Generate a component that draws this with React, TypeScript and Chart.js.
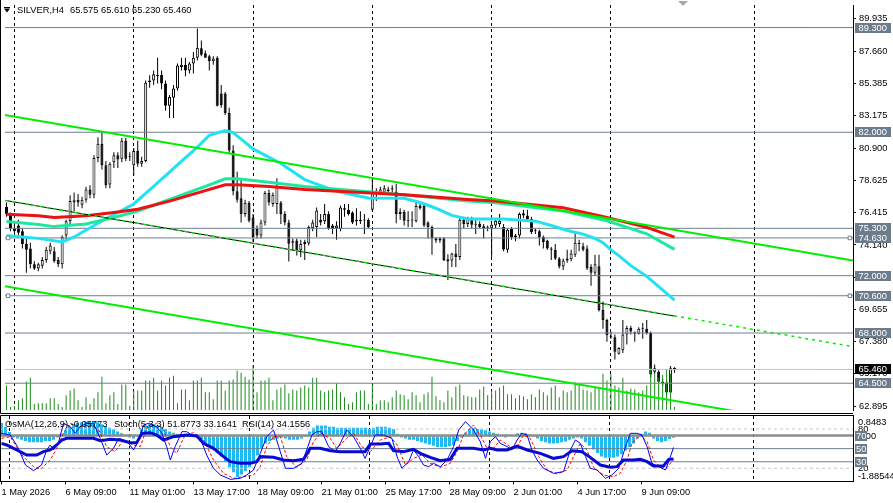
import React, { useEffect, useRef } from "react";
import { Chart, registerables } from "chart.js";
Chart.register(...registerables);

const FONT = '"Liberation Sans", Arial, sans-serif';
const FS = 9.3;

// ---------- text ----------
const symbolTitle = "SILVER,H4";
const quoteTitle = "65.575 65.610 65.230 65.460";
const indicatorTitles = ["OsMA(12,26,9) -0.05773", "Stoch(5,3,3) 51.8773 33.1641", "RSI(14) 34.1556"];
const timeTickBars = [0, 16, 32, 48, 64, 80, 96, 112, 128, 144, 160];
const timeTickLabels = ["1 May 2026", "6 May 09:00", "11 May 01:00", "13 May 17:00", "18 May 09:00", "21 May 01:00", "25 May 17:00", "28 May 09:00", "2 Jun 01:00", "4 Jun 17:00", "9 Jun 09:00"];
const weekGridBars = [2, 32, 62, 92, 122, 152, 188];
const priceTicks = [89.935, 87.66, 85.385, 83.175, 80.9, 78.625, 76.415, 74.14, 71.865, 69.655, 67.38, 65.17, 62.895];
const priceLevels = [89.3, 82.0, 75.3, 74.63, 72.0, 70.6, 68.0, 64.5];
const lastPrice = 65.46;
const subTickValues = [89.6, 80, 68.97, 20, 8.2];
const subTickLabels = ["0.8483", "80", "0.00", "20", "-1.88544"];
const oscLevelsSolid = [50, 30];
const oscLevelMain = 70;
const oscLevelsDashed = [80, 20];

// ---------- candles (H4) ----------
const opens = [76.8,76.3,75.3,75.5,75.1,74.2,73.9,72.8,72.5,72.7,73.1,73.7,73.7,73.1,72.8,74.8,75.8,77.1,77.3,76.95,77.3,78.0,77.65,80.2,81.2,79.7,78.35,79.9,80.4,80.15,81.4,80.3,79.7,80.7,79.8,80.0,85.5,85.6,86.0,86.0,85.4,83.85,84.4,85.05,86.55,86.7,86.3,86.8,87.2,87.85,87.5,87.3,86.95,87.2,84.7,84.7,83.35,80.73,77.88,77.4,76.3,77.08,76.05,75.25,74.8,75.7,77.77,77.0,77.0,77.1,76.3,75.7,74.4,74.45,73.78,74.2,74.25,75.3,75.4,75.9,75.8,76.3,75.5,75.3,75.25,76.6,76.6,76.4,75.8,75.9,75.85,75.9,76.6,77.7,77.8,77.8,78.0,78.0,77.85,76.45,76.45,75.85,75.9,75.8,76.9,76.85,75.7,75.4,74.6,74.45,74.6,73.15,73.05,73.55,73.3,75.9,75.6,75.95,75.55,75.6,75.45,75.35,75.3,75.5,75.6,75.4,73.8,75.25,74.7,74.8,76.35,76.2,75.95,75.1,75.1,74.7,74.45,73.9,73.8,73.2,72.64,73.05,73.15,73.45,74.3,74.05,73.9,72.6,72.2,72.65,69.6,68.9,67.7,67.7,66.55,66.8,67.9,68.35,68.05,67.95,68.3,68.3,68.0,65.3,65.3,64.6,64.55,63.85,65.575];
const highs = [77.1,76.4,75.8,75.9,75.3,74.6,74.3,73.0,72.9,73.3,74.0,74.3,74.0,73.3,74.8,75.9,77.6,77.8,77.7,77.5,78.2,78.3,80.4,81.65,81.98,80.0,79.9,80.6,80.6,81.6,81.6,80.6,80.9,81.4,80.3,85.6,85.97,86.3,87.2,86.3,85.6,84.6,85.3,86.8,87.2,87.2,86.9,87.6,89.23,88.4,87.7,87.4,87.3,87.3,85.3,84.8,83.7,81.1,79.25,78.8,77.3,77.2,76.3,75.5,75.9,77.9,78.0,77.8,78.8,77.2,76.5,75.9,74.6,74.6,74.5,74.5,75.5,75.9,76.75,76.3,77.0,76.5,75.6,75.8,76.9,77.0,77.0,76.5,76.7,76.5,76.3,76.0,78.8,78.1,78.2,78.3,78.2,78.3,78.4,76.7,76.6,76.5,76.5,77.1,77.1,77.0,75.8,75.5,74.7,74.7,74.7,73.5,73.6,74.2,76.0,76.1,76.1,76.1,75.9,75.8,75.6,75.5,75.6,76.0,76.3,75.6,75.3,75.4,74.9,76.4,76.6,76.6,76.1,75.3,75.2,74.8,74.5,74.0,74.2,73.3,73.2,73.8,73.8,75.1,74.5,74.3,74.1,72.8,73.45,73.45,70.2,69.0,68.1,67.9,67.0,68.9,68.5,68.5,68.1,68.4,68.7,68.9,68.1,65.8,65.4,64.8,64.7,65.7,65.61];
const lows = [76.1,75.1,74.9,74.8,73.9,72.2,72.5,72.4,72.3,72.5,72.9,73.5,72.9,72.6,72.5,74.5,75.6,76.5,76.8,76.7,77.1,77.4,77.4,79.9,79.4,78.1,78.1,79.5,79.5,79.9,80.0,80.0,79.0,79.6,79.6,79.9,85.1,85.3,85.4,85.0,83.5,83.0,83.0,84.9,86.3,85.9,86.1,86.1,87.0,87.3,87.2,86.3,86.7,83.8,83.7,83.2,80.5,77.6,77.1,75.7,76.1,75.7,74.35,74.6,74.6,75.5,76.9,76.8,76.3,75.6,75.5,72.98,73.8,73.4,73.3,73.1,74.1,75.1,74.7,75.5,75.6,75.2,74.9,74.5,75.1,76.1,76.2,75.6,75.5,75.6,74.9,75.3,76.5,77.2,77.6,77.7,77.8,77.8,75.65,75.9,75.5,75.4,75.4,75.7,76.6,75.4,74.6,73.45,74.3,74.3,73.0,71.7,72.6,72.6,73.1,75.3,75.4,75.3,74.9,75.3,74.6,75.1,73.3,75.3,75.4,73.7,73.6,74.5,74.4,74.6,76.0,75.8,74.9,74.9,74.1,73.9,73.8,73.1,73.1,72.5,72.4,72.9,73.0,73.3,73.7,73.7,72.4,71.3,72.0,69.5,68.3,67.4,67.6,66.15,66.5,66.6,67.2,67.9,67.4,67.9,67.6,67.9,64.9,65.1,64.5,64.3,63.7,63.8,65.23];
const closes = [76.3,75.3,75.1,75.0,74.2,73.8,72.8,72.5,72.8,73.1,73.8,74.1,73.0,72.8,74.7,75.8,77.2,77.25,77.1,77.3,78.0,77.65,80.2,81.2,79.7,78.3,79.8,80.4,80.1,81.4,80.15,80.25,80.7,79.8,80.0,85.45,85.6,86.04,85.9,85.4,83.85,84.45,85.05,86.65,86.7,86.3,86.8,87.2,87.9,87.4,87.2,86.95,87.15,83.85,83.9,83.35,80.73,77.88,77.3,76.3,77.08,75.83,74.7,74.8,75.7,77.77,77.1,77.65,78.2,76.3,75.7,74.23,74.3,73.78,74.2,74.35,75.4,75.7,76.55,75.7,76.3,75.3,75.25,75.5,76.75,76.7,76.3,75.7,75.9,75.8,75.9,75.4,77.8,77.85,78.0,78.1,77.9,78.1,76.3,76.3,75.83,75.8,75.85,76.85,76.7,75.5,75.4,74.6,74.45,74.6,73.1,72.98,73.55,73.3,75.9,75.6,75.95,75.55,75.6,75.4,75.3,75.3,75.55,75.83,75.83,73.82,75.2,74.7,74.8,76.3,76.2,75.95,75.05,75.1,74.7,74.35,73.9,73.8,73.2,72.64,73.05,73.2,73.55,74.3,74.2,73.8,72.5,72.2,72.8,69.6,68.9,67.85,67.75,66.7,66.95,67.9,68.35,68.1,67.95,68.3,68.3,68.0,65.1,65.55,64.6,64.5,63.85,65.55,65.46];
const volumes = [25,3,4,10,12,29,33,6,7,7,7,12,12,6,3,15,20,22,10,3,13,6,12,18,34,7,15,18,6,26,26,4,20,20,20,30,30,33,20,30,25,33,35,7,21,21,10,30,30,33,18,18,11,30,30,20,30,31,40,38,34,31,46,18,30,30,33,10,21,23,26,17,21,20,23,25,23,33,33,20,18,20,21,27,18,13,6,8,18,20,20,6,26,6,10,10,8,13,20,16,15,11,18,15,8,16,18,34,14,10,8,20,13,24,26,15,14,13,13,21,24,15,20,20,23,25,16,16,12,15,14,11,16,13,21,18,15,23,25,13,20,18,20,28,26,21,20,18,23,22,37,30,37,25,23,33,20,22,21,18,20,25,43,36,33,36,41,37,3];

// ---------- moving averages (bar index / value) ----------
const maFastBars = [0,8,14,17,25,32,37,43,48,51,55,57,62,69,75,83,91,100,104,108,112,116,125,133,137,141,145,148,150,152,154,157,161,168];
const maFastVals = [74.8,74.6,74.35,74.7,75.97,77.0,78.22,79.73,80.96,81.78,82.12,81.98,80.84,79.82,78.7,77.88,77.42,77.4,77.1,76.7,76.2,75.95,75.95,75.8,75.5,75.15,74.9,74.6,74.3,73.8,73.4,72.7,71.95,70.3];
const maMidBars = [0,8,12,20,27,33,41,50,55,58,66,75,100,116,123,140,151,161,168];
const maMidVals = [75.78,75.56,75.42,75.6,76.06,76.51,77.31,78.22,78.75,78.75,78.52,78.22,77.65,77.2,77.08,76.5,75.83,74.92,73.83];
const maSlowBars = [0,8,12,20,27,33,41,50,55,58,66,75,100,116,123,140,151,161,168];
const maSlowVals = [76.29,76.17,76.06,76.17,76.4,76.63,77.2,77.93,78.34,78.34,78.22,78.0,77.65,77.31,77.2,76.74,76.06,75.37,74.69];

// ---------- channel objects (values at left / right edge) ----------
const XMIN = -0.375;
const XMAX = 212.875;
const channelUpper = [83.21, 73.06];
const channelLower = [71.27, 61.14];
const channelMid = [77.25, 67.05];
const channelMidSolidEnd = [168, 69.18];
const handleBars = [0.4, 212.1];
const handleLevels = [74.63, 70.6];

// ---------- oscillators ----------
const osma = [0.56,0.39,0.18,-0.05,-0.1,-0.15,-0.2,-0.25,-0.25,-0.25,-0.25,-0.2,-0.2,-0.15,-0.05,0.1,0.25,0.4,0.5,0.55,0.58,0.6,0.6,0.6,0.58,0.5,0.42,0.35,0.28,0.2,0.12,0.05,-0.05,-0.1,0.05,0.3,0.45,0.5,0.5,0.45,0.4,0.3,0.2,0.15,0.1,0.05,0.02,0.0,-0.02,-0.05,-0.15,-0.3,-0.4,-0.55,-0.7,-0.85,-1.05,-1.3,-1.5,-1.7,-1.6,-1.45,-1.3,-1.05,-0.8,-0.5,-0.3,-0.2,-0.15,-0.1,-0.05,-0.1,-0.15,-0.15,-0.15,-0.1,0.05,0.2,0.35,0.45,0.45,0.45,0.4,0.4,0.35,0.35,0.35,0.35,0.35,0.35,0.35,0.35,0.3,0.35,0.4,0.4,0.4,0.35,0.3,0.1,-0.05,-0.1,-0.15,-0.15,-0.2,-0.25,-0.3,-0.35,-0.4,-0.45,-0.45,-0.45,-0.42,-0.38,-0.2,-0.05,0.15,0.3,0.35,0.3,0.28,0.25,0.2,0.15,0.1,0.0,-0.05,0.0,0.05,0.12,0.15,0.12,0.08,0.02,-0.1,-0.2,-0.25,-0.3,-0.3,-0.28,-0.25,-0.22,-0.15,-0.1,-0.05,-0.1,-0.25,-0.4,-0.55,-0.7,-0.85,-0.9,-0.9,-0.9,-0.85,-0.75,-0.6,-0.45,-0.3,-0.1,0.1,0.2,0.15,-0.1,-0.2,-0.25,-0.2,-0.12,-0.06];
const stochMainBars = [0,2.2,4,6,8,10,11.3,12.2,13,14.3,15.5,17.2,18.4,19.7,21.3,23,24.7,26.3,28,29.3,30.5,31.8,33,34.3,35.5,36.7,38.8,40.1,41.3,42.2,43.4,45.1,46.3,47.6,49.7,51.3,53,54.7,57.2,59.7,61.3,63,64.7,66.3,68,69.3,71,73,75.1,76.3,77.6,78.8,80.1,81.8,83.4,84.7,86.3,88,89.7,90.9,92.2,93.4,95.5,97.6,98.9,100.1,101.8,103,104.3,105.5,106.8,108,109.7,111.4,113,114.3,116,118,119.7,121,122.2,123.5,124.7,126.4,127.6,128.9,130.1,131.4,132.6,133.9,135.5,138,140.5,142.2,143.5,144.7,146,147.2,148.9,151,152.6,154.3,156,157.2,158.9,160.1,161.4,162.6,164.3,166,166.8,168];
const stochMainVals = [73.4,70.8,53,25,16.4,25,48,55.6,48,60.6,88.6,83.6,73.4,83.6,88.6,88.6,65.7,40.3,50.5,65.7,63.2,58.1,48,63.2,86.1,88.6,83.6,73.4,53,32.7,53,75.9,75.9,70.8,65.7,40.3,20,9.8,3.1,4.7,9.8,17.4,42.8,68.3,78.5,53,20,20,27.6,48,70.8,75.9,75.9,53,45.4,58.1,78.5,68.3,50.5,35.2,53,70.8,70.8,65.7,37.8,20,30.1,48,37.8,25,22.5,27.6,22.5,32.7,53,78.5,91.2,78.5,60.6,35.2,60.6,68.3,58.1,53,48,63.2,73.4,70.8,48,32.7,20,12.3,14.9,48,63.2,58.1,37.8,20,17.4,4.7,9.8,20,53,73.4,73.4,70.8,53,27.6,22.5,17.4,30.1,51.9];
const stochSignalBars = [0,2.2,4.7,8,9.7,12.2,13.8,15.5,17.2,19.7,22.2,24.3,26.3,28.4,30.5,33,34.7,36.3,38.8,40.5,42.2,43.8,45.9,48,50.5,53,55.5,58,60.5,63,64.7,66.3,68,69.7,71.3,73.8,76.3,78,79.7,82.2,83.8,86.3,88,90.1,92.2,94.7,97.2,98.9,101,103,105.1,107.2,109.7,112.2,113.9,115.5,118,119.7,121.4,123,124.7,127.2,128.9,130.5,132.2,134.3,136.4,138.9,141.4,143,144.7,146.4,148,150.5,153,154.7,156.4,157.6,159.7,161.4,163,164.7,166.4,168];
const stochSignalVals = [65.7,68.3,42.8,22.5,18.4,32.7,50.5,73.4,88.6,83.6,86.1,78.5,53,45.4,63.2,55.6,53,81,88.6,78.5,53,42.8,70.8,74.4,63.2,32.7,12.3,4.7,7.2,9.8,22.5,53,68.3,68.3,37.8,21.5,32.7,60.6,73.4,65.7,50.5,65.7,73.4,53,45.4,63.2,68.3,55.6,25,35.2,40.3,27.6,21.5,27.6,45.4,70.8,86.1,70.8,50.5,50.5,63.2,53,53,70.8,65.7,37.8,17.4,11.3,17.4,37.8,58.1,47.9,21.5,9.8,7.2,12.3,32.7,58.1,70.8,60.6,32.7,21.5,21.5,33.2];
const rsiBars = [0,1.3,3.8,6.3,8.8,10.5,12.2,13.8,15.1,16.3,19.7,23,24.7,27.2,29.7,32.2,33.8,35.1,37.2,38.8,40.5,43,46.3,48.8,50.5,53,55.5,57.2,59.7,62.2,63.8,64.7,68,70.5,73,75.5,77.2,79.7,82.2,84.7,88,90.9,92.2,94.7,96.8,98,100.5,103,104.7,107.2,109.7,112.2,113.9,118,120.5,122.2,123.9,126.4,128.9,131.4,134.7,138,140.5,142.6,145.1,147.2,149.7,152.2,153.9,155.5,158,159.7,161.4,163,165.5,166.8,168];
const rsiVals = [58.1,55.6,48,40.3,40.3,45.4,48,55.6,63.2,65.7,65.7,65.7,62.2,64.2,63.2,59.1,59.1,73.4,74.4,70.8,63.2,68.3,70.8,69.3,58.1,50.5,37.8,30.1,27.6,27.6,30.1,37.8,36.7,32.7,31.6,33.7,50.5,50.5,46.9,45.4,45.4,45.4,57.1,57.1,58.1,46.9,45.4,49,42.8,36.7,31.6,33.7,50.5,50.5,48,50.5,48,48,54,48,42.8,35.2,37.8,46.9,45.4,36.7,25,21.5,22.5,32.7,32.7,33.7,30.1,23.5,23.5,33.7,34.2];

// ---------- styles ----------
const LEVEL = "#6E7F91";
const LEVEL_BOX = "#6D7C8C";
const LIME = "#00EE00";

const pts = (xs: number[], ys: number[]) => xs.map((x, k) => ({ x, y: ys[k] }));
const lineDs = (data: any[], color: string, width: number, extra: any = {}) => ({
  type: "line", data, borderColor: color, borderWidth: width, pointRadius: 0, fill: false, tension: 0, ...extra,
});
const hLine = (v: number) => [{ x: XMIN, y: v }, { x: XMAX, y: v }];
const setTicks = (vals: number[]) => (s: any) => { s.ticks = vals.map((v) => ({ value: v })); };

const mainOverlay = {
  id: "mainOverlay",
  afterDraw(chart: any) {
    const { ctx } = chart;
    const ys = chart.scales.y;
    ctx.save();
    ctx.strokeStyle = "#000";
    ctx.lineWidth = 1;
    ctx.beginPath();
    ctx.moveTo(0.5, 0); ctx.lineTo(0.5, 413.5); ctx.lineTo(853, 413.5);
    ctx.stroke();
    ctx.font = `${FS}px ${FONT}`;
    ctx.textBaseline = "middle";
    ctx.textAlign = "left";
    const box = (v: number, bg: string) => {
      const y = Math.round(ys.getPixelForValue(v));
      ctx.fillStyle = bg;
      ctx.fillRect(855, y - 5, 36, 10);
      ctx.fillStyle = "#fff";
      ctx.fillText(v.toFixed(3), 858.5, y + 0.5);
    };
    priceLevels.forEach((v) => box(v, LEVEL_BOX));
    box(lastPrice, "#000");
    ctx.fillStyle = "#000";
    ctx.beginPath(); ctx.moveTo(4, 8.5); ctx.lineTo(10, 8.5); ctx.lineTo(7, 12.5); ctx.closePath(); ctx.fill();
    ctx.fillRect(4, 7, 6, 1);
    ctx.fillText(symbolTitle, 17, 10.5);
    ctx.fillText(quoteTitle, 70, 10.5);
    ctx.fillStyle = "#A8A8A8";
    ctx.beginPath(); ctx.moveTo(678, 1); ctx.lineTo(688, 1); ctx.lineTo(683, 6); ctx.closePath(); ctx.fill();
    ctx.restore();
  },
};

const subOverlay = {
  id: "subOverlay",
  afterDraw(chart: any) {
    const { ctx, chartArea } = chart;
    const ys = chart.scales.y;
    ctx.save();
    ctx.strokeStyle = "#000";
    ctx.lineWidth = 1;
    ctx.beginPath();
    ctx.moveTo(0.5, chartArea.bottom); ctx.lineTo(0.5, 1.5); ctx.lineTo(853, 1.5);
    ctx.stroke();
    ctx.font = `${FS}px ${FONT}`;
    ctx.textBaseline = "middle";
    ctx.textAlign = "left";
    [oscLevelMain, ...oscLevelsSolid].forEach((v) => {
      const y = Math.round(ys.getPixelForValue(v));
      ctx.fillStyle = LEVEL_BOX;
      ctx.fillRect(855, y - 5, 12, 10);
      ctx.fillStyle = "#fff";
      ctx.fillText(String(v), 856, y + 0.5);
    });
    ctx.fillStyle = "#000";
    ctx.fillText(indicatorTitles[0], 5, 10);
    ctx.fillText(indicatorTitles[1], 114, 10);
    ctx.fillText(indicatorTitles[2], 242, 10);
    ctx.restore();
  },
};

function mainConfig(): any {
  const idx = closes.map((_, i) => i);
  return {
    type: "bar",
    data: {
      datasets: [
        { type: "bar", yAxisID: "y", order: 30, data: idx.map((i) => ({ x: i, y: [lows[i], highs[i]] })), backgroundColor: "#000", borderWidth: 0, barThickness: 1, grouped: false, inflateAmount: 0 },
        { type: "bar", yAxisID: "y", order: 29, data: idx.map((i) => ({ x: i, y: [opens[i], closes[i]] })), backgroundColor: idx.map((i) => (closes[i] >= opens[i] ? "#fff" : "#000")), borderColor: "#000", borderWidth: 1, borderSkipped: false, barThickness: 3, grouped: false, minBarLength: 1, inflateAmount: 0 },
        { type: "bar", yAxisID: "yv", order: 28, data: idx.map((i) => ({ x: i, y: volumes[i] })), backgroundColor: "#1C8A1C", borderWidth: 0, barThickness: 1, grouped: false, inflateAmount: 0 },
        ...priceLevels.map((v) => lineDs(hLine(v), LEVEL, 1, { order: 20 })),
        lineDs(hLine(lastPrice), "#C4C4C4", 1, { order: 21 }),
        lineDs(pts(maFastBars, maFastVals), "#22E2F2", 3, { order: 12 }),
        lineDs(pts(maMidBars, maMidVals), "#1DE8A0", 3, { order: 11 }),
        lineDs(pts(maSlowBars, maSlowVals), "#EE1111", 3, { order: 10 }),
        lineDs([{ x: XMIN, y: channelUpper[0] }, { x: XMAX, y: channelUpper[1] }], LIME, 2, { order: 5 }),
        lineDs([{ x: XMIN, y: channelLower[0] }, { x: XMAX, y: channelLower[1] }], LIME, 2, { order: 5 }),
        lineDs([{ x: XMIN, y: channelMid[0] }, { x: channelMidSolidEnd[0], y: channelMidSolidEnd[1] }], "#000", 1, { order: 6 }),
        lineDs([{ x: XMIN, y: channelMid[0] }, { x: XMAX, y: channelMid[1] }], LIME, 1.5, { order: 4, borderDash: [3, 4] }),
        { type: "line", order: 1, showLine: false, data: handleBars.flatMap((x) => handleLevels.map((y) => ({ x, y }))), pointStyle: "rect", pointRadius: 2.5, pointBackgroundColor: "#fff", pointBorderColor: LEVEL, pointBorderWidth: 1 },
      ],
    },
    options: {
      responsive: false,
      animation: false,
      devicePixelRatio: 1,
      events: [],
      layout: { padding: { left: 0, right: 0, top: 0, bottom: 2 } },
      plugins: { legend: { display: false }, tooltip: { enabled: false } },
      scales: {
        x: {
          type: "linear", min: XMIN, max: XMAX, position: "bottom", offset: false,
          afterBuildTicks: setTicks(weekGridBars),
          afterFit: (s: any) => { s.height = 0; s.paddingLeft = 0; s.paddingRight = 0; },
          ticks: { display: false },
          grid: { drawTicks: false, color: "#000", lineWidth: 1, offset: false },
          border: { display: false, dash: [3, 3] },
        },
        y: {
          type: "linear", position: "right", min: 62.633, max: 90.873,
          afterBuildTicks: setTicks(priceTicks),
          afterFit: (s: any) => { s.width = 40; s.paddingTop = 0; s.paddingBottom = 0; },
          ticks: { autoSkip: false, padding: 3, color: "#000", font: { family: FONT, size: FS }, callback: (v: number) => v.toFixed(3) },
          grid: { drawOnChartArea: false, drawTicks: true, tickLength: 3, color: "#000" },
          border: { display: true, color: "#000" },
        },
        yv: { type: "linear", display: false, min: 0, max: 413 },
      },
    },
    plugins: [mainOverlay],
  };
}

function subConfig(): any {
  const idx = osma.map((_, i) => i);
  return {
    type: "bar",
    data: {
      datasets: [
        { type: "bar", yAxisID: "yo", order: 30, data: idx.map((i) => ({ x: i, y: osma[i] })), backgroundColor: "#1EBAF2", borderWidth: 0, barThickness: 3, grouped: false, inflateAmount: 0 },
        ...oscLevelsDashed.map((v) => lineDs(hLine(v), "#C8C8C8", 1, { order: 20, borderDash: [3, 3] })),
        ...oscLevelsSolid.map((v) => lineDs(hLine(v), LEVEL, 1, { order: 20 })),
        lineDs(hLine(oscLevelMain), "#8C8C8C", 2.5, { order: 20 }),
        lineDs(pts(stochSignalBars, stochSignalVals), "#FF0000", 1, { order: 12, borderDash: [3, 2] }),
        lineDs(pts(stochMainBars, stochMainVals), "#0000FF", 1, { order: 11 }),
        lineDs(pts(rsiBars, rsiVals), "#0A0ACF", 3, { order: 10 }),
      ],
    },
    options: {
      responsive: false,
      animation: false,
      devicePixelRatio: 1,
      events: [],
      layout: { padding: { left: 0, right: 0, top: 1.9, bottom: 0 } },
      plugins: { legend: { display: false }, tooltip: { enabled: false } },
      scales: {
        x: {
          type: "linear", min: XMIN, max: XMAX, position: "bottom", offset: false,
          afterBuildTicks: setTicks(timeTickBars),
          afterFit: (s: any) => { s.height = 21.6; s.paddingLeft = 0; s.paddingRight = 0; },
          ticks: { autoSkip: false, maxRotation: 0, minRotation: 0, align: "start", padding: 2, color: "#000", font: { family: FONT, size: FS }, callback: (v: number) => timeTickLabels[timeTickBars.indexOf(v)] },
          grid: { drawOnChartArea: false, drawTicks: true, tickLength: 3, color: "#000", offset: false },
          border: { display: true, color: "#000" },
        },
        xg: {
          type: "linear", min: XMIN, max: XMAX, position: "top", offset: false,
          afterBuildTicks: setTicks(weekGridBars),
          afterFit: (s: any) => { s.height = 0; s.paddingLeft = 0; s.paddingRight = 0; },
          ticks: { display: false },
          grid: { drawTicks: false, color: "#000", lineWidth: 1, offset: false },
          border: { display: false, dash: [3, 3] },
        },
        y: {
          type: "linear", position: "right", min: 0, max: 100,
          afterBuildTicks: setTicks(subTickValues),
          afterFit: (s: any) => { s.width = 40; s.paddingTop = 0; s.paddingBottom = 0; },
          ticks: { autoSkip: false, padding: 5, color: "#000", font: { family: FONT, size: FS }, callback: (v: number) => subTickLabels[subTickValues.indexOf(v)] },
          grid: { drawOnChartArea: false, drawTicks: false },
          border: { display: true, color: "#000" },
        },
        yo: { type: "linear", display: false, min: -1.88544, max: 0.8483 },
      },
    },
    plugins: [subOverlay],
  };
}

export default function App() {
  const mainRef = useRef<HTMLCanvasElement>(null);
  const subRef = useRef<HTMLCanvasElement>(null);
  useEffect(() => {
    Chart.defaults.font.family = FONT;
    const main = new Chart(mainRef.current as HTMLCanvasElement, mainConfig());
    const sub = new Chart(subRef.current as HTMLCanvasElement, subConfig());
    return () => { main.destroy(); sub.destroy(); };
  }, []);
  return (
    <div style={{ position: "absolute", left: 0, top: 0, width: 893, height: 503, background: "#fff", overflow: "hidden" }}>
      <canvas ref={mainRef} width={893} height={415} style={{ position: "absolute", left: 0, top: 0, width: 893, height: 415 }} />
      <canvas ref={subRef} width={893} height={89} style={{ position: "absolute", left: 0, top: 414, width: 893, height: 89 }} />
    </div>
  );
}
